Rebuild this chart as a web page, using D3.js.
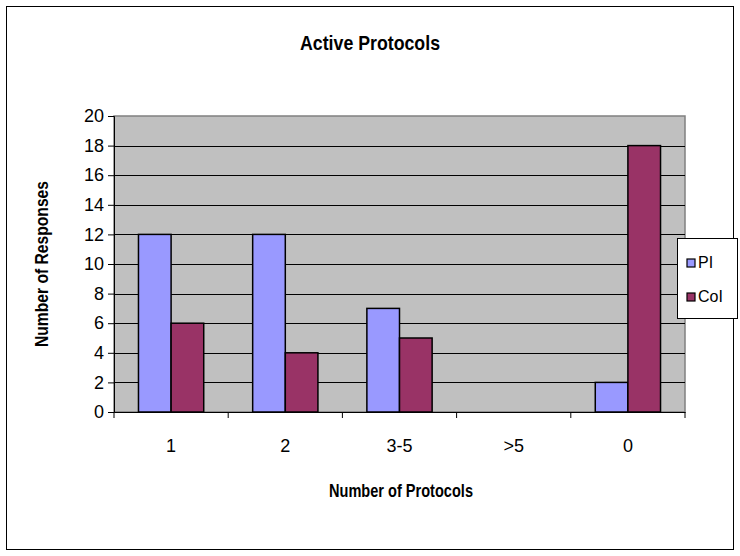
<!DOCTYPE html>
<html>
<head>
<meta charset="utf-8">
<script src="https://cdn.jsdelivr.net/npm/d3@7"></script>
<style>
  body { margin: 0; background: #fff; }
  text { font-family: "Liberation Sans", Arial, sans-serif; }
</style>
</head>
<body>
<div id="chart"></div>
<script>
const categories = ['1', '2', '3-5', '>5', '0']
const seriesNames = ['PI', 'CoI']
const piValues = [12, 12, 7, 0, 2]
const coiValues = [6, 4, 5, 0, 18]
const yTicks = [0, 2, 4, 6, 8, 10, 12, 14, 16, 18, 20]
const colors = ['#9999FF', '#993366']

function draw() {
    const width = 740, height = 556
    const plot = { left: 114, top: 116, right: 685, bottom: 412 }

    const svg = d3.select('#chart')
        .append('svg')
        .attr('width', width)
        .attr('height', height)

    // outer chart border
    svg.append('rect')
        .attr('x', 6.5).attr('y', 6.5)
        .attr('width', 727).attr('height', 543)
        .attr('fill', '#fff')
        .attr('stroke', '#000')
        .attr('stroke-width', 1)

    const xScale = d3.scaleBand()
        .domain(categories)
        .range([plot.left, plot.right])

    const yScale = d3.scaleLinear()
        .domain([0, 20])
        .range([plot.bottom, plot.top])

    // plot background
    svg.append('rect')
        .attr('x', plot.left).attr('y', plot.top)
        .attr('width', plot.right - plot.left)
        .attr('height', plot.bottom - plot.top)
        .attr('fill', '#C0C0C0')
        .attr('stroke', '#808080')
        .attr('stroke-width', 1.5)

    // gridlines
    svg.append('g')
        .selectAll('line')
        .data(yTicks.slice(1, -1))
        .join('line')
        .attr('x1', plot.left).attr('x2', plot.right)
        .attr('y1', d => Math.round(yScale(d)) + 0.5)
        .attr('y2', d => Math.round(yScale(d)) + 0.5)
        .attr('stroke', '#000')

    // bars
    const barW = xScale.bandwidth() / 3.5
    const data = categories.map((c, i) => [
        { cat: c, s: 0, v: piValues[i] },
        { cat: c, s: 1, v: coiValues[i] }
    ])
    svg.append('g')
        .selectAll('g')
        .data(data)
        .join('g')
        .selectAll('rect')
        .data(d => d.filter(e => e.v > 0))
        .join('rect')
        .attr('x', d => xScale(d.cat) + barW * 0.75 + d.s * barW)
        .attr('y', d => yScale(d.v))
        .attr('width', barW)
        .attr('height', d => yScale(0) - yScale(d.v))
        .attr('fill', d => colors[d.s])
        .attr('stroke', '#000')
        .attr('stroke-width', 1.5)

    // y axis
    const yAxis = d3.axisLeft(yScale)
        .tickValues(yTicks)
        .tickSize(6)
        .tickPadding(4)
    const yg = svg.append('g')
        .attr('transform', `translate(${plot.left},0)`)
        .call(yAxis)
    yg.attr('font-size', null).attr('font-family', null)
    yg.select('.domain').attr('stroke', '#000')
    yg.selectAll('text')
        .style('font-size', '18px')
        .attr('fill', '#000')

    // x axis
    const xAxis = d3.axisBottom(xScale)
        .tickSize(0)
        .tickPadding(27)
    const xg = svg.append('g')
        .attr('transform', `translate(0,${plot.bottom})`)
        .call(xAxis)
    xg.attr('font-size', null).attr('font-family', null)
    xg.select('.domain').attr('stroke', '#000')
    xg.selectAll('text')
        .style('font-size', '18px')
        .attr('fill', '#000')
    // tick marks between categories
    xg.append('g')
        .selectAll('line')
        .data(categories.concat(['end']))
        .join('line')
        .attr('x1', (d, i) => i < categories.length ? xScale(d) : plot.right)
        .attr('x2', (d, i) => i < categories.length ? xScale(d) : plot.right)
        .attr('y1', 0).attr('y2', 6)
        .attr('stroke', '#000')

    // titles (text is a bit condensed in the reference)
    svg.append('text')
        .attr('x', 370).attr('y', 50)
        .attr('text-anchor', 'middle')
        .style('font-size', '21px')
        .attr('font-weight', 'bold')
        .attr('textLength', 140)
        .attr('lengthAdjust', 'spacingAndGlyphs')
        .text('Active Protocols')

    svg.append('text')
        .attr('x', 401).attr('y', 497)
        .attr('text-anchor', 'middle')
        .style('font-size', '18px')
        .attr('font-weight', 'bold')
        .attr('textLength', 144)
        .attr('lengthAdjust', 'spacingAndGlyphs')
        .text('Number of Protocols')

    svg.append('text')
        .attr('transform', `translate(48,${(plot.top + plot.bottom) / 2}) rotate(-90)`)
        .attr('text-anchor', 'middle')
        .style('font-size', '18px')
        .attr('font-weight', 'bold')
        .attr('textLength', 166)
        .attr('lengthAdjust', 'spacingAndGlyphs')
        .text('Number of Responses')

    // legend
    const legend = svg.append('g').attr('transform', 'translate(677,238)')
    legend.append('rect')
        .attr('x', 0.5).attr('y', 0.5)
        .attr('width', 60).attr('height', 80)
        .attr('fill', '#fff')
        .attr('stroke', '#000')
    const items = legend.selectAll('g.item')
        .data(seriesNames)
        .join('g')
        .attr('class', 'item')
        .attr('transform', (d, i) => `translate(10,${30 + i * 34})`)
    items.append('rect')
        .attr('x', 0).attr('y', -9)
        .attr('width', 8).attr('height', 8)
        .attr('fill', (d, i) => colors[i])
        .attr('stroke', '#000')
        .attr('stroke-width', 1.2)
    items.append('text')
        .attr('x', 11).attr('y', 0)
        .style('font-size', '16px')
        .text(d => d)
}

draw()
</script>
</body>
</html>
